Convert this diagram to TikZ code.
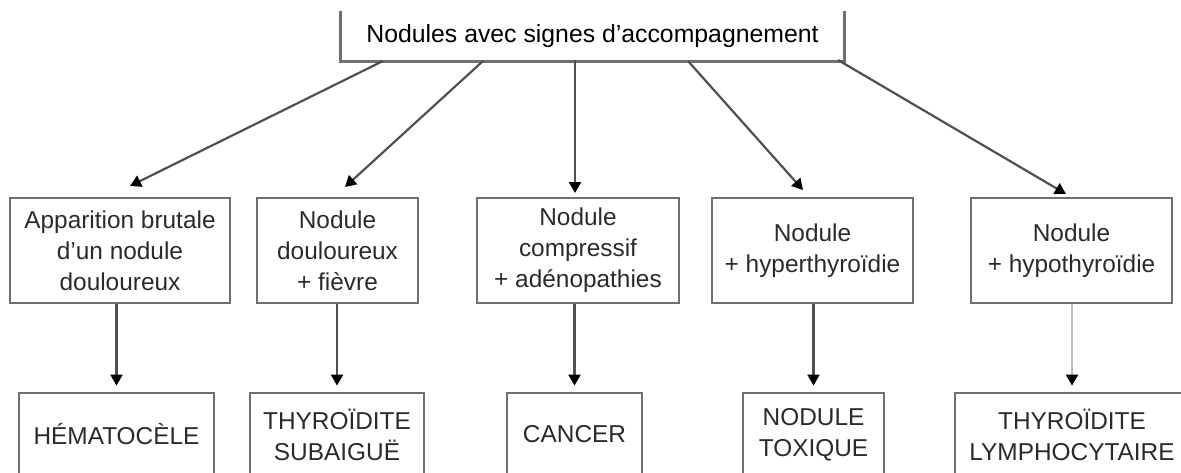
\documentclass[tikz,border=0pt]{standalone}
\usepackage{fontspec}
\setmainfont{Liberation Sans}
\usetikzlibrary{arrows.meta}
\definecolor{boxgray}{HTML}{707070}
\definecolor{linegray}{HTML}{505050}
\definecolor{lightline}{HTML}{BBBBBB}
\definecolor{txt}{HTML}{2A2A2A}
\begin{document}
\begin{tikzpicture}[x=0.5pt,y=-0.5pt,
  box/.style={draw=boxgray, line width=1.4pt, align=center, inner sep=0pt, text=txt,
    font=\fontsize{12.2}{15.5}\selectfont},
  edge/.style={draw=boxgray, line width=1.4pt},
  arr/.style={draw=linegray, line width=1.1pt, -{Triangle[width=6pt,length=5.5pt,color=black]}}]
\useasboundingbox (0,0) rectangle (1181,472);
\clip (0,0) rectangle (1181,472);
% top box
\node (top) [box, draw=none, text=black, font=\fontsize{12.4}{15}\selectfont,
  minimum width=250.5pt, minimum height=24pt] at (592.5,36) {Nodules avec signes d'accompagnement};
\draw[edge] (top.north west) -- (top.south west) -- (top.south east) -- (top.north east);
% middle row
\node (m1) [box, minimum width=110pt, minimum height=52.5pt] at (120,250.5) {Apparition brutale\\d'un nodule\\douloureux};
\node (m2) [box, minimum width=80.5pt, minimum height=52.5pt] at (337.5,250.5) {Nodule\\douloureux\\+ fièvre};
\node (m3) [box, minimum width=101pt, minimum height=52.5pt] at (578,250.5) {Nodule\\compressif\\+ adénopathies};
\node (m4) [box, minimum width=100.5pt, minimum height=52.5pt] at (812.5,250.5) {Nodule\\+ hyperthyroïdie};
\node (m5) [box, minimum width=100.5pt, minimum height=52.5pt] at (1071.5,250.5) {Nodule\\+ hypothyroïdie};
% bottom row
\node (b1) [box, minimum width=97.5pt, minimum height=41.5pt] at (116.5,434.5) {HÉMATOCÈLE};
\node (b2) [box, minimum width=87pt, minimum height=41.5pt] at (337,434.5) {THYROÏDITE\\SUBAIGUË};
\node (b3) [box, minimum width=67.5pt, minimum height=41.5pt] at (574.5,434.5) {CANCER};
\node (b4) [box, minimum width=70.5pt, minimum height=41.5pt] at (813.5,434.5) {NODULE\\TOXIQUE};
\node (b5) [box, minimum width=117pt, minimum height=41.5pt] at (1072,434.5) {THYROÏDITE\\LYMPHOCYTAIRE};
% connector anchors
\coordinate (s1) at (383,61);
\coordinate (s2) at (483,61);
\coordinate (s3) at (575,60);
\coordinate (s4) at (688,61);
\coordinate (s5) at (838,60);
\coordinate (e1) at (130,186);
\coordinate (e2) at (345,187);
\coordinate (e3) at (575,193);
\coordinate (e4) at (803,190);
\coordinate (e5) at (1066,194);
\draw[arr] (s1) -- (e1);
\draw[arr] (s2) -- (e2);
\draw[arr] (s3) -- (e3);
\draw[arr] (s4) -- (e4);
\draw[arr] (s5) -- (e5);
% vertical connectors
\draw[arr, shorten >=3pt] (m1.south -| b1.north) -- (b1.north);
\draw[arr, shorten >=3pt] (m2.south -| b2.north) -- (b2.north);
\draw[arr, shorten >=3pt] (m3.south -| b3.north) -- (b3.north);
\draw[arr, shorten >=3pt] (m4.south -| b4.north) -- (b4.north);
\draw[arr, draw=lightline, shorten >=3pt] (m5.south -| b5.north) -- (b5.north);
\end{tikzpicture}
\end{document}
